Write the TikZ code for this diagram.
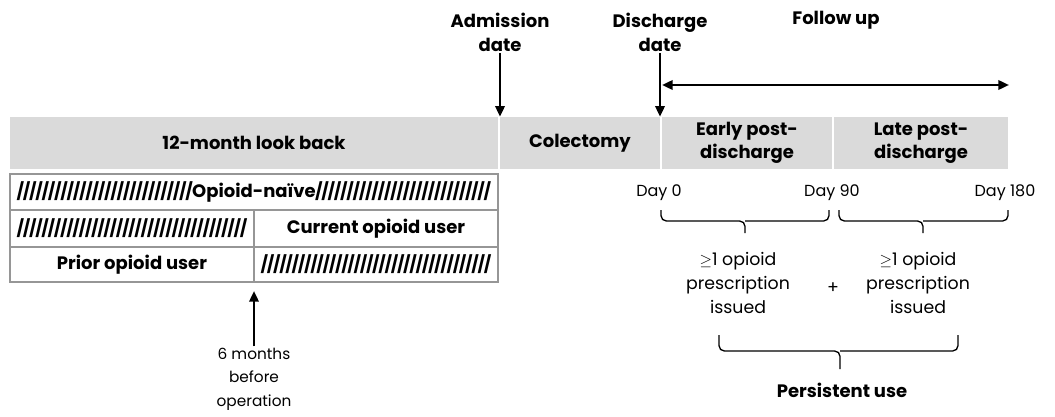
\documentclass[tikz,border=0pt]{standalone}
\usepackage{fontspec}
\setmainfont{Poppins}
\usetikzlibrary{arrows.meta}
\definecolor{bandgray}{RGB}{218,218,218}
\definecolor{tline}{RGB}{150,150,150}
\newcommand{\hatchfill}{\xleaders\hbox to 4.6pt{\hss\fontsize{12.5}{14}\selectfont\bfseries/\hss}\hfill}
\begin{document}
\begin{tikzpicture}[x=0.75pt,y=-0.75pt,
  font=\fontsize{12}{18}\selectfont,
  seg/.style={fill=bandgray, draw=none, minimum height=39pt, inner sep=0pt, align=center, font=\fontsize{13.5}{17.5}\selectfont\bfseries},
  cell/.style={draw=tline, line width=0.9pt, inner sep=0pt, align=center, font=\fontsize{13.5}{16}\selectfont\bfseries},
  lbl/.style={align=center, inner sep=1pt, font=\fontsize{13.5}{18}\selectfont\bfseries},
  txt/.style={align=center, inner sep=1pt},
  rxt/.style={align=center, inner sep=1pt, font=\fontsize{13}{18}\selectfont},
  arr/.style={line width=1.8pt, -{Triangle[length=8pt,width=7pt]}},
  darr/.style={line width=1.8pt, {Triangle[length=8pt,width=7pt]}-{Triangle[length=8pt,width=7pt]}},
  br/.style={line width=1pt, rounded corners=4pt}
]
\useasboundingbox (0,0) rectangle (1055,417);

% band segments
\node[seg, minimum width=366pt] (lb) at (254,143) {12-month look back};
\node[seg, minimum width=120pt] (col) at (580,143) {Colectomy};
\node[seg, minimum width=127.5pt] (early) at (747,143) {Early post-\\discharge};
\node[seg, minimum width=130.5pt] (late) at (921,143) {Late post-\\discharge};

% table
\node[cell, minimum width=366pt, minimum height=27pt] (naive) at (254,192)
  {\hbox to 355pt{\hatchfill Opioid-na\"ive\hatchfill}};
\node[cell, minimum width=183pt, minimum height=27.75pt] (h1) at (132,228.5)
  {\hbox to 172pt{\hatchfill}};
\node[cell, minimum width=183pt, minimum height=27.75pt] (cur) at (376,228.5) {Current opioid user};
\node[cell, minimum width=183pt, minimum height=26.25pt] (prior) at (132,264.5) {Prior opioid user};
\node[cell, minimum width=183pt, minimum height=26.25pt] (h2) at (376,264.5)
  {\hbox to 172pt{\hatchfill}};

% top labels
\node[lbl] (adm) at (500,32) {Admission\\date};
\node[lbl] (dis) at (660,32) {Discharge\\date};
\node[lbl] (fu) at (836,20) {Follow up};
\draw[arr] (adm.south) -- (adm.south |- lb.north);
\draw[arr] (dis.south) -- (dis.south |- early.north);
\coordinate (fuL) at (662,85);
\coordinate (fuR) at (1009,85);
\draw[darr] (fuL) -- (fuR);

% day labels
\node[txt] (d0) at (659,193) {Day 0};
\node[txt] (d90) at (832,193) {Day 90};
\node[txt] (d180) at (1005,193) {Day 180};

% braces
\coordinate (b1l) at (661,210); \coordinate (b1r) at (829,210);
\coordinate (b1m) at (745,221); \coordinate (b1t) at (745,233);
\draw[br] (b1l) |- (b1m) -- (b1t);
\draw[br] (b1r) |- (b1m);
\coordinate (b2l) at (839,210); \coordinate (b2r) at (1008,210);
\coordinate (b2m) at (923,221); \coordinate (b2t) at (923,233);
\draw[br] (b2l) |- (b2m) -- (b2t);
\draw[br] (b2r) |- (b2m);

\node[rxt] (rx1) at (738,283) {$\geq$1 opioid\\prescription\\issued};
\node[rxt] (plus) at (833,288) {+};
\node[rxt] (rx2) at (918,283) {$\geq$1 opioid\\prescription\\issued};

\coordinate (b3l) at (719,335); \coordinate (b3r) at (958,335);
\coordinate (b3m) at (840,351); \coordinate (b3t) at (840,369);
\draw[br] (b3l) |- (b3m) -- (b3t);
\draw[br] (b3r) |- (b3m);
\node[lbl] (pers) at (842,390) {Persistent use};

% six months
\node[txt, font=\fontsize{11.5}{17.5}\selectfont] (six) at (254,379) {6 months\\before\\operation};
\coordinate (sixtip) at (254,291);
\draw[arr] (six.north) -- (sixtip);
\end{tikzpicture}
\end{document}
